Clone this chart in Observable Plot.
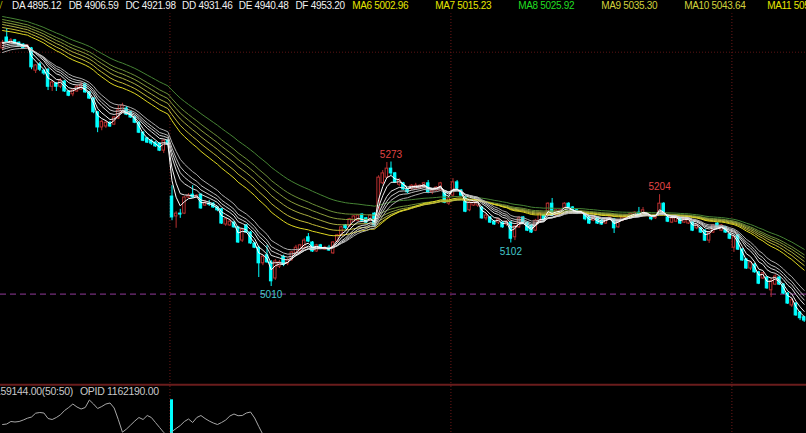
<!DOCTYPE html>
<html><head><meta charset="utf-8">
<script src="https://cdn.jsdelivr.net/npm/d3@7"></script>
<script src="https://cdn.jsdelivr.net/npm/@observablehq/plot@0.6"></script>
<style>
html,body{margin:0;padding:0;background:#000;}
#wrap{position:relative;width:806px;height:433px;overflow:hidden;background:#000;font-family:"Liberation Sans",Arial,sans-serif;}
#main{position:absolute;left:0;top:0;width:806px;height:386px;overflow:hidden;}
#sub{position:absolute;left:0;top:386px;width:806px;height:47px;overflow:hidden;}
.txt{position:absolute;font-size:10px;letter-spacing:-0.3px;line-height:11px;white-space:nowrap;}
.item{display:inline-block;}
</style></head><body>
<div id="wrap">
  <div id="main"></div>
  <div id="sub"></div>
  <div id="legend" class="txt" style="left:0;top:0;"></div>
  <div id="subText" class="txt" style="left:0;top:386px;width:806px;font-size:10.5px;"></div>
</div>
<script>
// ---- data ----
const opens=[5513,5536,5525,5530,5525,5521,5513,5513,5466,5479,
5466,5468,5432,5439,5432,5443,5422,5416,5422,5426,
5437,5420,5407,5378,5346,5348,5356,5352,5365,5378,
5386,5378,5367,5356,5335,5323,5318,5314,5312,5297,
5318,5200,5158,5164,5164,5198,5204,5198,5204,5181,
5185,5185,5177,5173,5141,5139,5145,5135,5107,5139,
5124,5101,5092,5059,5076,5061,5027,5052,5073,5059,
5067,5080,5084,5090,5114,5103,5084,5097,5088,5092,
5080,5105,5118,5139,5137,5147,5149,5162,5154,5149,
5164,5160,5228,5240,5259,5249,5225,5228,5215,5217,
5217,5217,5219,5228,5209,5213,5213,5209,5185,5202,
5230,5213,5198,5171,5181,5181,5177,5154,5156,5147,
5145,5145,5141,5145,5114,5135,5156,5145,5139,5128,
5145,5160,5160,5185,5160,5164,5175,5185,5177,5171,
5164,5162,5156,5149,5156,5149,5143,5152,5152,5135,
5149,5154,5158,5160,5166,5164,5160,5156,5154,5166,
5185,5156,5145,5147,5154,5145,5143,5145,5133,5133,
5128,5107,5124,5143,5128,5135,5120,5092,5118,5088,
5067,5048,5056,5040,5027,5029,5002,5014,5029,5014,
4995,4970,4974,4955,4945];
const highs=[5530,5555,5534,5532,5527,5523,5521,5515,5479,5483,
5468,5470,5445,5441,5449,5445,5424,5426,5435,5441,
5439,5422,5409,5380,5361,5358,5358,5369,5392,5397,
5390,5380,5369,5358,5337,5325,5320,5316,5314,5320,
5320,5223,5168,5173,5200,5206,5223,5204,5206,5192,
5192,5187,5179,5175,5154,5152,5147,5137,5133,5141,
5126,5103,5095,5076,5097,5065,5067,5065,5076,5069,
5084,5097,5099,5111,5122,5105,5099,5099,5095,5097,
5105,5120,5137,5141,5154,5160,5162,5164,5156,5162,
5166,5244,5255,5272,5273,5251,5238,5230,5217,5225,
5228,5225,5230,5234,5215,5221,5230,5213,5200,5238,
5234,5215,5200,5192,5192,5192,5179,5164,5158,5149,
5154,5147,5149,5147,5139,5158,5158,5147,5141,5152,
5166,5162,5187,5196,5173,5173,5187,5187,5179,5173,
5171,5164,5158,5158,5158,5152,5156,5156,5154,5152,
5156,5162,5166,5168,5177,5177,5166,5158,5162,5204,
5187,5158,5156,5156,5156,5156,5154,5147,5141,5135,
5130,5126,5141,5145,5141,5137,5122,5116,5120,5090,
5069,5063,5059,5042,5040,5031,5027,5035,5031,5016,
4997,4985,4976,4957,4947];
const lows=[5508,5525,5523,5521,5517,5511,5511,5468,5460,5464,
5456,5424,5422,5422,5428,5420,5411,5411,5420,5424,
5418,5405,5375,5335,5339,5344,5346,5350,5363,5375,
5371,5365,5354,5333,5316,5312,5308,5304,5295,5291,
5308,5149,5133,5154,5162,5196,5196,5196,5173,5179,
5179,5175,5168,5141,5137,5137,5133,5101,5103,5122,
5099,5090,5029,5054,5059,5010,5023,5048,5052,5054,
5063,5076,5080,5088,5103,5082,5082,5088,5086,5084,
5078,5103,5116,5130,5135,5145,5147,5147,5143,5147,
5137,5154,5225,5238,5244,5228,5221,5213,5206,5213,
5215,5215,5217,5206,5204,5211,5211,5185,5181,5198,
5215,5200,5166,5168,5179,5177,5152,5149,5143,5139,
5141,5133,5137,5102,5107,5133,5143,5126,5122,5126,
5143,5149,5158,5158,5158,5162,5173,5175,5164,5162,
5162,5149,5141,5147,5141,5139,5141,5149,5122,5133,
5147,5152,5156,5158,5160,5162,5158,5149,5152,5162,
5160,5145,5143,5145,5141,5143,5141,5126,5130,5122,
5105,5101,5122,5133,5126,5122,5109,5082,5086,5063,
5046,5044,5038,5014,5025,5004,4987,5012,5012,4993,
4972,4966,4947,4938,4934];
const closes=[5525,5527,5530,5523,5519,5513,5519,5473,5477,5468,
5460,5432,5441,5432,5445,5422,5413,5424,5432,5435,
5420,5407,5378,5346,5358,5356,5348,5367,5382,5392,
5373,5367,5356,5335,5318,5314,5312,5306,5297,5318,
5310,5156,5164,5162,5198,5202,5198,5202,5175,5187,
5183,5177,5171,5143,5152,5147,5135,5103,5130,5124,
5101,5092,5059,5073,5061,5021,5063,5061,5056,5065,
5082,5092,5097,5107,5105,5084,5097,5090,5092,5086,
5103,5118,5135,5133,5152,5158,5160,5149,5145,5160,
5139,5240,5249,5259,5249,5230,5234,5215,5209,5223,
5223,5223,5228,5209,5213,5219,5228,5187,5196,5230,
5217,5202,5168,5187,5187,5187,5154,5160,5145,5141,
5152,5135,5147,5111,5137,5154,5145,5128,5124,5149,
5164,5152,5185,5160,5171,5171,5185,5177,5166,5164,
5168,5152,5143,5156,5143,5141,5154,5156,5133,5149,
5156,5160,5164,5166,5162,5171,5164,5152,5160,5185,
5162,5147,5154,5156,5143,5154,5152,5128,5139,5124,
5107,5124,5139,5135,5139,5124,5111,5114,5088,5065,
5048,5061,5040,5016,5038,5006,5021,5031,5014,4995,
4974,4981,4949,4943,4938];

// moving-average groups (periods and their values at the first visible bar)
const shortNames=["DA","DB","DC","DD","DE","DF"];
const shortValues=[4895.12,4906.59,4921.98,4931.46,4940.48,4953.20];
const shortPeriods=[3,5,8,10,12,15];
const shortSeeds=[5525.5,5523.4,5519.1,5514.9,5510.7,5504.4];
const longNames=["MA6","MA7","MA8","MA9","MA10","MA11"];
const longValues=[5002.96,5015.23,5025.92,5035.30,5043.64,5058.91];
const longPeriods=[30,35,40,45,50,60];
const longSeeds=[5550.8,5557.2,5563.5,5568.8,5574.1,5580.4];

// marked extremes
const extremeBars=[94,65,123,159];
const extremeValues=[5273,5010,5102,5204];
const extremeKinds=["high","low","low","high"];

// session separators (between bars), reference lines
const sessionBreaks=[40.5,108.5,176.5];
const gridPrice=[5505];
const markPrice=[4994];

// lower panel: open interest and highlighted volume bar
const openInterest=[1139000,1139500,1142000,1141500,1142000,1143500,1145300,1146500,1150300,1151000,
1150500,1145000,1144000,1146000,1148700,1153000,1156000,1159500,1156500,1154500,
1156000,1163500,1159500,1155000,1157000,1159500,1160500,1155500,1144000,1131300,
1134500,1138500,1142500,1146000,1144000,1148000,1146000,1141000,1136000,1131000,
1127000,1132000,1135000,1138000,1142000,1144500,1141000,1146000,1148000,1145000,
1142500,1140500,1139000,1141000,1143500,1147500,1149500,1147800,1148000,1150500,
1151500,1145500,1137000,1129000,1121000];
const volBarIndex=[41];
const volBarValue=[1163700];
const subLabel1="159144.00(50:50)";
const subLabel2="OPID 1162190.00";

// ---- build ----
const CYAN="#00ffff", RED="#b83030";
const bars=closes.map((c,i)=>({i,o:opens[i],h:highs[i],l:lows[i],c,up:c>=opens[i]}));
const upBars=bars.filter(d=>d.up), dnBars=bars.filter(d=>!d.up);
function ema(period,seed){const a=2/(period+1);let v=seed;return closes.map((c,i)=>{if(i>0)v=v+a*(c-v);return {i,v};});}
const shortColors=["#ffffff","#eeeeee","#dddddd","#cdcdcd","#bdbdbd","#adadad"];
const longColors=["#e0d820","#c4bc38","#a8ac40","#8c9e3c","#6c9038","#468434"];
const shortLines=shortPeriods.map((p,k)=>ema(p,shortSeeds[k]));
const longLines=longPeriods.map((p,k)=>ema(p,longSeeds[k]));
const extremes=extremeBars.map((b,k)=>({i:b,v:extremeValues[k],kind:extremeKinds[k]}));

const xDomain=[-0.508,194.56];
const hw=0.3;
const main=Plot.plot({
  width:806,height:386,margin:0,
  style:{background:"transparent",overflow:"hidden"},
  x:{domain:xDomain,axis:null},
  y:{domain:[4798.8,5614.2],axis:null},
  marks:[
    Plot.ruleY(gridPrice,{stroke:"#5a1414",strokeDasharray:"1,2"}),
    Plot.ruleX(sessionBreaks,{x:d=>d,y1:4798.8,y2:5586,stroke:"#6e1818",strokeDasharray:"1,2"}),
    Plot.ruleY(markPrice,{stroke:"#93399a",strokeDasharray:"6,4",strokeWidth:1}),
    Plot.ruleY([4802.6],{stroke:"#6a1c1c",strokeWidth:2}),
    Plot.ruleX(dnBars,{x:"i",y1:"l",y2:"h",stroke:CYAN,strokeWidth:1}),
    Plot.ruleX(upBars,{x:"i",y1:"l",y2:"h",stroke:RED,strokeWidth:1}),
    Plot.rect(dnBars,{x1:d=>d.i-hw,x2:d=>d.i+hw,y1:"o",y2:"c",fill:CYAN,stroke:CYAN,strokeWidth:1}),
    Plot.rect(upBars,{x1:d=>d.i-hw,x2:d=>d.i+hw,y1:"o",y2:"c",fill:"#000",stroke:RED,strokeWidth:1}),
    ...longLines.map((ln,k)=>Plot.line(ln,{x:"i",y:"v",stroke:longColors[k],strokeWidth:1})).reverse(),
    ...shortLines.map((ln,k)=>Plot.line(ln,{x:"i",y:"v",stroke:shortColors[k],strokeWidth:1})).reverse(),
    Plot.text(extremes.filter(d=>d.kind==="high"),{x:"i",y:"v",text:d=>String(d.v),dy:-7.5,fill:"#e04444",fontSize:10,fontFamily:"Liberation Sans, Arial, sans-serif"}),
    Plot.text(extremes.filter(d=>d.kind==="low"),{x:"i",y:"v",text:d=>String(d.v),dy:8.5,fill:"#44c8cc",fontSize:10,fontFamily:"Liberation Sans, Arial, sans-serif"})
  ]
});
document.getElementById("main").appendChild(main);

const oiData=openInterest.map((v,i)=>({i,v}));
const vol=volBarIndex.map((b,k)=>({i:b,v:volBarValue[k]}));
const sub=Plot.plot({
  width:806,height:47,margin:0,
  style:{background:"transparent",overflow:"hidden"},
  x:{domain:xDomain,axis:null},
  y:{domain:[1130000,1177000],axis:null},
  marks:[
    Plot.ruleX(sessionBreaks,{x:d=>d,stroke:"#6e1818",strokeDasharray:"1,2"}),
    Plot.rect(vol,{x1:d=>d.i-0.36,x2:d=>d.i+0.36,y1:1120000,y2:"v",fill:CYAN}),
    Plot.line(oiData,{x:"i",y:"v",stroke:"#a8a8a8",strokeWidth:1})
  ]
});
document.getElementById("sub").appendChild(sub);

// legend
const lg=document.getElementById("legend");
let html='<span class="item" style="position:absolute;left:-3px;color:#c8d200">\u221a</span><span class="item" style="width:12px"></span>';
shortNames.forEach((n,k)=>{html+=`<span class="item" style="width:56.7px;color:#f0f0f0">${n} ${shortValues[k].toFixed(2)}</span>`;});
const longTextColors=["#e6e600","#e6e600","#22dd22","#d2d23c","#d2d23c","#e6e600"];
longNames.forEach((n,k)=>{html+=`<span class="item" style="width:83px;color:${longTextColors[k]}">${n} ${longValues[k].toFixed(2)}</span>`;});
lg.innerHTML=html;
const st=document.getElementById("subText");
st.innerHTML=`<span style="position:absolute;right:733px;color:#c8c8c8">${subLabel1}</span><span style="position:absolute;left:80px;color:#c8c8c8">${subLabel2}</span>`;
</script>
</body></html>
